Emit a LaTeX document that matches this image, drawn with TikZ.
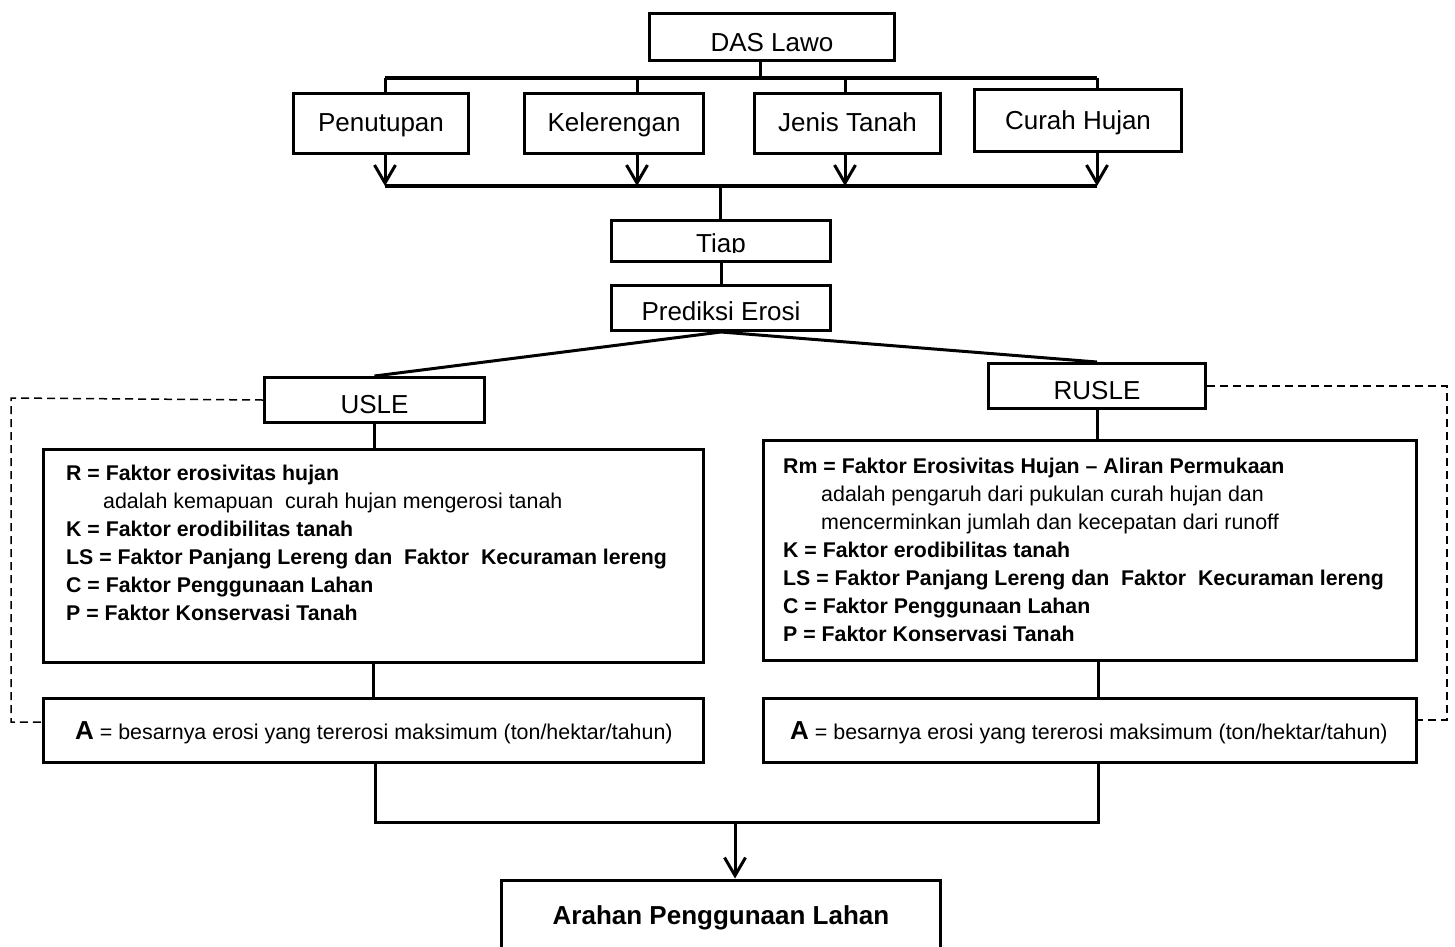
\documentclass[tikz,border=0pt]{standalone}
\usepackage{fontspec}
\setmainfont{Liberation Sans}
\usetikzlibrary{arrows.meta}
\tikzset{
 box/.style={draw, line width=3pt, inner sep=0pt, rectangle},
 lbl/.style={anchor=base, inner sep=0pt, font=\fontsize{26}{30}\selectfont},
 bl/.style={anchor=base west, inner sep=0pt, font=\fontsize{21.3}{25}\selectfont\bfseries},
 rl/.style={anchor=base west, inner sep=0pt, font=\fontsize{21.4}{25}\selectfont},
 conn/.style={line width=3pt},
 bar/.style={line width=4pt},
 arr/.style={line width=3pt, -{Straight Barb[length=18pt,width=21pt]}},
 dsh/.style={line width=1.5pt, dash pattern=on 8pt off 5pt},
}
\begin{document}
\begin{tikzpicture}[x=1pt,y=-1pt]
\useasboundingbox (0,0) rectangle (1455,946);
\fill[white] (0,0) rectangle (1455,946);

% top boxes
\node[box, minimum width=245pt, minimum height=47pt] (das) at (772,37) {};
\node[lbl] (dast) at (772,51) {DAS Lawo};
\node[box, minimum width=175pt, minimum height=60pt] (pen) at (381,123.5) {};
\node[lbl] (pent) at (381,131) {Penutupan};
\node[box, minimum width=179pt, minimum height=60pt] (kel) at (614,123.5) {};
\node[lbl] (kelt) at (614,131) {Kelerengan};
\node[box, minimum width=186pt, minimum height=60pt] (jen) at (847.5,123.5) {};
\node[lbl] (jent) at (847.5,131) {Jenis Tanah};
\node[box, minimum width=207pt, minimum height=62pt] (cur) at (1078,120.5) {};
\node[lbl] (curt) at (1078,129) {Curah Hujan};

\coordinate (b0) at (760,78);
\coordinate (b1) at (385,78);
\coordinate (b2) at (637,78);
\coordinate (b3) at (845,78);
\coordinate (b4) at (1097,78);
\draw[conn] (das.south -| b0) -- (b0);
\draw[bar] (b1) -- (b4);
\draw[conn] (b1) -- (b1 |- pen.north);
\draw[conn] (b2) -- (b2 |- kel.north);
\draw[conn] (b3) -- (b3 |- jen.north);
\draw[conn] (b4) -- (b4 |- cur.north);

\coordinate (c0) at (720,186);
\coordinate (c1) at (385,186);
\coordinate (c2) at (637,186);
\coordinate (c3) at (845,186);
\coordinate (c4) at (1097,186);
\draw[arr] (c1 |- pen.south) -- (c1);
\draw[arr] (c2 |- kel.south) -- (c2);
\draw[arr] (c3 |- jen.south) -- (c3);
\draw[arr] (c4 |- cur.south) -- (c4);
\draw[conn, line width=3.5pt] (c1) -- (c4);

% Tiap and Prediksi
\node[box, minimum width=219pt, minimum height=41pt] (tiap) at (721,241) {};
\begin{scope}
\clip (600,200) rectangle (840,252.5);
\node[lbl] (tiapt) at (721,252) {Tiap};
\end{scope}
\node[box, minimum width=219pt, minimum height=45pt] (pred) at (721,308) {};
\node[lbl] (predt) at (721,320) {Prediksi Erosi};
\draw[conn] (c0) -- (c0 |- tiap.north);
\draw[conn] (tiap.south) -- (tiap.south |- pred.north);

% USLE / RUSLE
\node[box, minimum width=220pt, minimum height=45pt] (usle) at (374.5,400) {};
\node[lbl] (uslet) at (374.5,413) {USLE};
\node[box, minimum width=217pt, minimum height=45pt] (rusle) at (1097,386) {};
\node[lbl] (ruslet) at (1097,399) {RUSLE};
\draw[conn] (usle.north) -- (pred.south) -- (rusle.north);

% content boxes
\node[box, minimum width=660pt, minimum height=213pt] (ubox) at (373.5,556) {};
\node[box, minimum width=653pt, minimum height=220pt] (rbox) at (1090,550.5) {};
\draw[conn] (usle.south) -- (usle.south |- ubox.north);
\draw[conn] (rusle.south) -- (rusle.south |- rbox.north);

\node[bl] (u1) at (66,480) {R = Faktor erosivitas hujan};
\node[rl] (u2) at (103,508) {adalah kemapuan\ \ curah hujan mengerosi tanah};
\node[bl] (u3) at (66,536) {K = Faktor erodibilitas tanah};
\node[bl] (u4) at (66,564) {LS = Faktor Panjang Lereng dan\ \ Faktor\ \ Kecuraman lereng};
\node[bl] (u5) at (66,592) {C = Faktor Penggunaan Lahan};
\node[bl] (u6) at (66,620) {P = Faktor Konservasi Tanah};

\node[bl] (r1) at (783,473) {Rm = Faktor Erosivitas Hujan – Aliran Permukaan};
\node[rl] (r2) at (821,501) {adalah pengaruh dari pukulan curah hujan dan};
\node[rl] (r3) at (821,529) {mencerminkan jumlah dan kecepatan dari runoff};
\node[bl] (r4) at (783,557) {K = Faktor erodibilitas tanah};
\node[bl] (r5) at (783,585) {LS = Faktor Panjang Lereng dan\ \ Faktor\ \ Kecuraman lereng};
\node[bl] (r6) at (783,613) {C = Faktor Penggunaan Lahan};
\node[bl] (r7) at (783,641) {P = Faktor Konservasi Tanah};

% A boxes
\node[box, minimum width=660pt, minimum height=64pt] (ua) at (373.5,730.5) {};
\node[box, minimum width=653pt, minimum height=64pt] (ra) at (1090,730.5) {};
\node[rl] (uat) at (75,739) {\textbf{\fontsize{26}{28}\selectfont A} = besarnya erosi yang tererosi maksimum (ton/hektar/tahun)};
\node[rl] (rat) at (790,739) {\textbf{\fontsize{26}{28}\selectfont A} = besarnya erosi yang tererosi maksimum (ton/hektar/tahun)};
\draw[conn] (ubox.south) -- (ua.north);
\coordinate (x1) at (1098,0);
\draw[conn] (rbox.south -| x1) -- (ra.north -| x1);

% dashed frame
\coordinate (dL1) at (11,398);
\coordinate (dL2) at (11,722);
\coordinate (dR1) at (1447,386);
\coordinate (dR2) at (1447,720);
\draw[dsh] (usle.west) -- (dL1) -- (dL2) -- (dL2 -| ua.west);
\draw[dsh] (rusle.east) -- (dR1) -- (dR2) -- (dR2 -| ra.east);

% bottom
\node[box, minimum width=439pt, minimum height=100pt] (arah) at (721,930) {};
\node[lbl, font=\fontsize{26}{30}\selectfont\bfseries] (araht) at (721,924) {Arahan Penggunaan Lahan};
\coordinate (m) at (735,822);
\coordinate (x0) at (375,0);
\draw[conn] (ua.south -| x0) |- (m) -| (ra.south -| x1);
\draw[arr] (m) -- (m |- arah.north);
\end{tikzpicture}
\end{document}
